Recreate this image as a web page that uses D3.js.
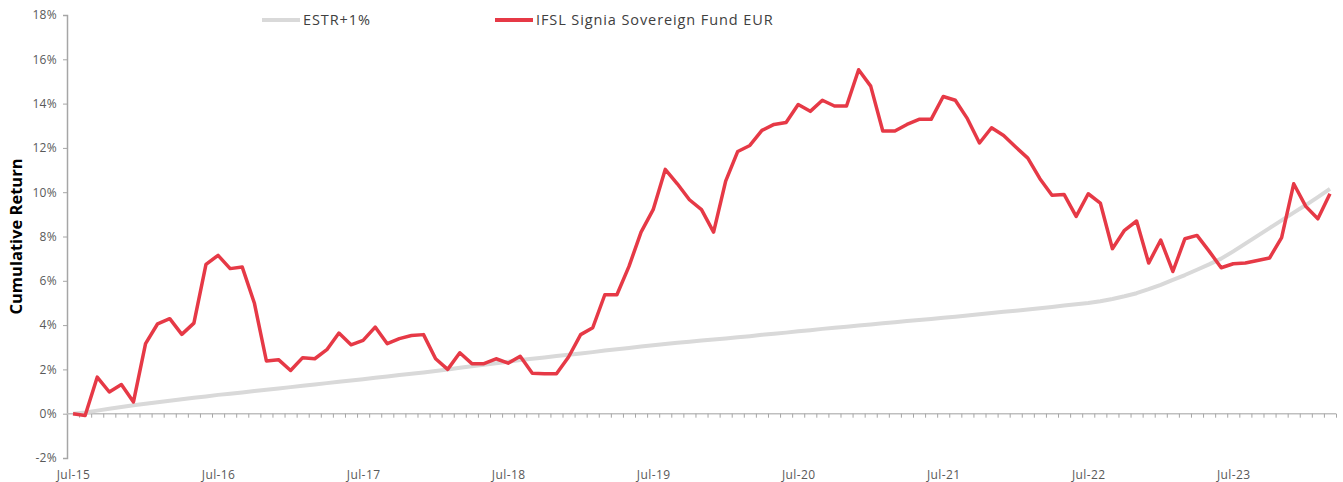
<!DOCTYPE html>
<html>
<head>
<meta charset="utf-8">
<script src="https://cdn.jsdelivr.net/npm/d3@7"></script>
<style>
  body { margin: 0; background: #fff; }
  svg text { font-family: "Open Sans", Lato, sans-serif; }
</style>
</head>
<body>
<div id="chart"></div>
<script>
// monthly categories, Jul-15 .. Mar-24
const months = d3.timeMonths(new Date(2015, 6, 1), new Date(2024, 3, 1));
const xLabels = ['Jul-15', 'Jul-16', 'Jul-17', 'Jul-18', 'Jul-19', 'Jul-20', 'Jul-21', 'Jul-22', 'Jul-23'];
const yTicks = [-2, 0, 2, 4, 6, 8, 10, 12, 14, 16, 18];

// ESTR+1% cumulative return (%)
const estr = [
  0, 0.05, 0.14, 0.22, 0.3, 0.38, 0.45, 0.52, 0.58, 0.65,
  0.72, 0.78, 0.85, 0.9, 0.96, 1.02, 1.08, 1.14, 1.2, 1.26,
  1.32, 1.38, 1.44, 1.5, 1.56, 1.62, 1.68, 1.75, 1.8, 1.86,
  1.93, 2.0, 2.07, 2.14, 2.21, 2.28, 2.35, 2.42, 2.48, 2.54,
  2.6, 2.66, 2.72, 2.78, 2.85, 2.91, 2.97, 3.03, 3.09, 3.15,
  3.2, 3.25, 3.3, 3.35, 3.4, 3.45, 3.5, 3.56, 3.61, 3.66,
  3.72, 3.77, 3.83, 3.88, 3.93, 3.98, 4.03, 4.08, 4.13, 4.18,
  4.23, 4.28, 4.33, 4.38, 4.43, 4.49, 4.55, 4.6, 4.65, 4.7,
  4.76, 4.82, 4.88, 4.94, 5.0, 5.08, 5.18, 5.3, 5.44, 5.62,
  5.82, 6.04, 6.26, 6.5, 6.74, 7.0, 7.33, 7.68, 8.03, 8.38,
  8.73, 9.08, 9.42, 9.78, 10.15
];

// IFSL Signia Sovereign Fund EUR cumulative return (%)
const fund = [
  0, -0.08, 1.65, 0.98, 1.32, 0.53, 3.16, 4.06, 4.29, 3.58,
  4.09, 6.74, 7.15, 6.55, 6.62, 5.0, 2.38, 2.44, 1.95, 2.53,
  2.48, 2.89, 3.64, 3.11, 3.31, 3.91, 3.16, 3.39, 3.53, 3.57,
  2.48, 2.0, 2.75, 2.26, 2.26, 2.48, 2.28, 2.59, 1.83, 1.8,
  1.8, 2.56, 3.57, 3.88, 5.37, 5.37, 6.65, 8.2, 9.21, 11.03,
  10.38, 9.66, 9.21, 8.2, 10.5, 11.84, 12.11, 12.79, 13.06, 13.15,
  13.96, 13.65, 14.15, 13.89, 13.89, 15.53, 14.79, 12.76, 12.76, 13.06,
  13.29, 13.29, 14.32, 14.15, 13.32, 12.22, 12.91, 12.56, 12.04, 11.54,
  10.61, 9.86, 9.9, 8.91, 9.93, 9.51, 7.45, 8.28, 8.7, 6.8,
  7.84, 6.42, 7.9, 8.05, 7.34, 6.59, 6.77, 6.8, 6.92, 7.03,
  7.95, 10.38, 9.36, 8.8, 9.93
];

const width = 1343, height = 482;
const plotLeft = 67, plotRight = 1336, plotTop = 15, plotBottom = 458;

const svg = d3.select('#chart').append('svg')
  .attr('width', width)
  .attr('height', height);

const x = d3.scaleLinear()
  .domain([-0.5, months.length - 0.5])
  .range([plotLeft, plotRight]);

const y = d3.scaleLinear()
  .domain([-2, 18])
  .range([plotBottom, plotTop]);

// y axis
const yAxis = svg.append('g')
  .attr('transform', `translate(${plotLeft},0)`)
  .call(d3.axisLeft(y).tickValues(yTicks).tickSize(4).tickPadding(6)
    .tickFormat(d => d + '%'));
yAxis.select('.domain').attr('stroke', '#a6a6a6').attr('stroke-width', 1.5);
yAxis.selectAll('.tick line').attr('stroke', '#a6a6a6');
yAxis.selectAll('.tick text').attr('fill', '#595959')
  .style('font-size', '12px').style('letter-spacing', '0.3px');

// x axis: tick marks between months, at 0%
const bounds = d3.range(1, months.length + 1).map(i => i - 0.5);
const xAxis = svg.append('g')
  .attr('transform', `translate(0,${y(0)})`)
  .call(d3.axisBottom(x).tickValues(bounds).tickSize(4).tickFormat(''));
xAxis.select('.domain').attr('stroke', '#bfbfbf').attr('stroke-width', 1.5)
  .attr('d', `M${plotLeft},0H${plotRight}`);
xAxis.selectAll('.tick line').attr('stroke', '#a6a6a6');

// x labels at the bottom
const labelIdx = xLabels.map((d, i) => i * 12);
const xLab = svg.append('g')
  .attr('transform', `translate(0,${plotBottom + 9})`)
  .call(d3.axisBottom(x).tickValues(labelIdx).tickSize(0)
    .tickFormat((d, i) => xLabels[i]));
xLab.select('.domain').remove();
xLab.selectAll('.tick text').attr('fill', '#595959')
  .style('font-size', '12px').style('letter-spacing', '0.4px');

// lines
const line = d3.line()
  .x((d, i) => x(i))
  .y(d => y(d));

svg.append('path')
  .datum(estr)
  .attr('fill', 'none')
  .attr('stroke', '#d9d9d9')
  .attr('stroke-width', 4)
  .attr('stroke-linejoin', 'round')
  .attr('d', line);

svg.append('path')
  .datum(fund)
  .attr('fill', 'none')
  .attr('stroke', '#e63946')
  .attr('stroke-width', 3.5)
  .attr('stroke-linejoin', 'round')
  .attr('d', line);

// axis title
svg.append('text')
  .attr('transform', `translate(22,${(plotTop + plotBottom) / 2}) rotate(-90)`)
  .attr('text-anchor', 'middle')
  .style('font-size', '16.5px')
  .style('font-weight', 'bold')
  .attr('fill', '#000')
  .text('Cumulative Return');

// legend
const legend = [
  { name: 'ESTR+1%', color: '#d9d9d9', x: 262 },
  { name: 'IFSL Signia Sovereign Fund EUR', color: '#e63946', x: 495 }
];
const lg = svg.append('g');
legend.forEach(d => {
  lg.append('line')
    .attr('x1', d.x).attr('x2', d.x + 38)
    .attr('y1', 20).attr('y2', 20)
    .attr('stroke', d.color).attr('stroke-width', 4);
  lg.append('text')
    .attr('x', d.x + 41).attr('y', 20)
    .attr('dy', '0.35em')
    .attr('fill', '#404040')
    .style('font-size', '14.5px')
    .style('letter-spacing', '0.9px')
    .text(d.name);
});
</script>
</body>
</html>
